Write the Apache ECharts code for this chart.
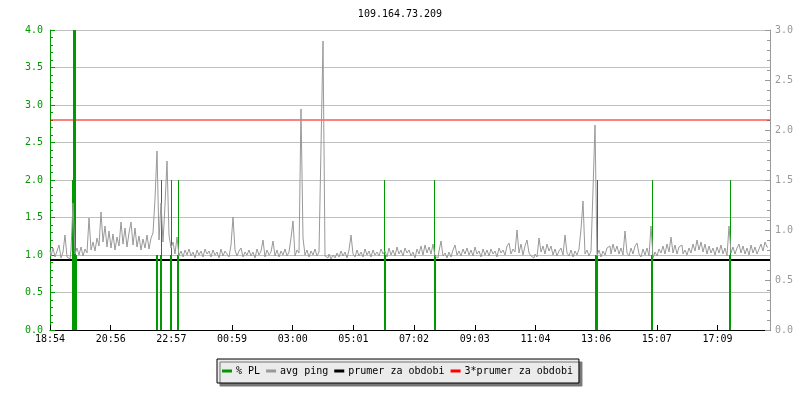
<!DOCTYPE html>
<html>
<head>
<meta charset="utf-8">
<script src="https://cdn.jsdelivr.net/npm/echarts/dist/echarts.min.js"></script>
<style>html,body{margin:0;padding:0;background:#fff;}#c{width:800px;height:400px;}</style>
</head>
<body>
<div id="c"></div>
<script>
// x values are minutes after 18:54
const timeLabels = ['18:54','20:56','22:57','00:59','03:00','05:01','07:02','09:03','11:04','13:06','15:07','17:09'];
const tickStep = 1335 / 11;
const pingStep = 4; // minutes between ping samples
const pingValues = [
0.80,0.74,0.82,0.73,0.79,0.85,0.72,0.78,0.95,0.73,0.71,0.80,1.27,0.76,0.82,0.75,0.83,0.74,0.81,0.77,
1.12,0.80,0.88,0.79,0.92,0.84,1.18,0.88,1.04,0.83,0.99,0.82,0.96,0.80,0.93,0.84,1.08,0.86,1.02,0.83,
0.97,1.08,0.85,1.02,0.83,0.94,0.80,0.91,0.82,0.95,0.81,0.92,0.97,1.31,1.79,0.90,1.27,0.88,1.25,1.69,
0.95,0.82,0.88,0.76,0.93,0.74,0.79,0.73,0.80,0.75,0.81,0.74,0.78,0.72,0.80,0.75,0.79,0.73,0.81,0.76,
0.79,0.73,0.80,0.75,0.78,0.72,0.81,0.74,0.79,0.76,0.73,0.85,1.13,0.80,0.74,0.79,0.82,0.73,0.78,0.75,
0.80,0.74,0.78,0.72,0.81,0.75,0.79,0.90,0.73,0.80,0.75,0.78,0.89,0.74,0.80,0.73,0.79,0.75,0.81,0.74,
0.78,0.92,1.09,0.74,0.80,0.77,2.21,0.92,0.75,0.80,0.73,0.79,0.75,0.81,0.74,0.78,1.83,2.89,0.74,0.72,
0.76,0.71,0.75,0.72,0.77,0.73,0.79,0.74,0.78,0.72,0.80,0.95,0.76,0.73,0.80,0.74,0.78,0.73,0.81,0.75,
0.79,0.73,0.80,0.75,0.78,0.74,0.81,0.76,0.79,0.73,0.82,0.75,0.80,0.74,0.83,0.76,0.80,0.74,0.82,0.77,
0.80,0.74,0.78,0.72,0.81,0.76,0.84,0.75,0.85,0.77,0.83,0.76,0.86,0.74,0.72,0.79,0.89,0.74,0.77,0.72,
0.78,0.73,0.80,0.85,0.75,0.79,0.74,0.81,0.76,0.82,0.75,0.80,0.74,0.83,0.76,0.79,0.73,0.81,0.75,0.80,
0.74,0.81,0.76,0.79,0.73,0.82,0.77,0.80,0.75,0.84,0.87,0.76,0.81,0.78,1.00,0.77,0.86,0.75,0.84,0.90,
0.77,0.74,0.72,0.76,0.73,0.92,0.78,0.84,0.76,0.86,0.79,0.84,0.75,0.81,0.74,0.79,0.82,0.75,0.95,0.77,
0.74,0.80,0.73,0.79,0.75,0.81,1.01,1.29,0.76,0.80,0.74,0.79,1.40,2.05,0.74,0.80,0.73,0.79,0.75,0.82,
0.84,0.76,0.86,0.78,0.84,0.76,0.82,0.75,0.99,0.77,0.74,0.82,0.76,0.84,0.87,0.76,0.73,0.81,0.75,0.82,
0.74,1.04,0.72,0.78,0.74,0.81,0.77,0.84,0.76,0.86,0.78,0.93,0.77,0.85,0.76,0.83,0.85,0.76,0.80,0.75,
0.82,0.77,0.86,0.79,0.90,0.80,0.88,0.78,0.86,0.76,0.84,0.77,0.82,0.75,0.83,0.77,0.85,0.76,0.82,0.74,
1.04,0.77,0.83,0.76,0.82,0.86,0.77,0.84,0.76,0.82,0.75,0.85,0.77,0.83,0.76,0.81,0.86,0.79,0.88,0.83
];
const plTimes = [45,47,49,51,53, 213,215,221,223,241,243,255,257, 669,671, 769,771, 1091,1093,1095, 1203,1205, 1359,1361];
const plValues = [2,4,4,4,1, 1,1,1,2,1,2,1,2, 2,1, 2,1, 1,1,2, 1,2, 1,2];
const meanPing = 0.70;

const FONT = 'DejaVu Sans Mono';
const GREEN = '#009900';
const GRAY = '#999999';

const pingData = pingValues.map((v, i) => [i * pingStep, v]);
const plData = plTimes.map((t, i) => [t, plValues[i]]);

const chart = echarts.init(document.getElementById('c'), null, {renderer: 'canvas'});
chart.setOption({
  animation: false,
  backgroundColor: '#ffffff',
  title: {
    text: '109.164.73.209', left: 'center', top: 4,
    textStyle: {fontFamily: FONT, fontSize: 10, fontWeight: 'normal', color: '#000'}
  },
  legend: {
    data: ['% PL', 'avg ping', 'prumer za obdobi', '3*prumer za obdobi'],
    left: 217, top: 359,
    icon: 'rect', itemWidth: 10, itemHeight: 3, itemGap: 6,
    padding: [7, 6, 7, 5],
    backgroundColor: '#ebebeb', borderColor: '#000', borderWidth: 1,
    shadowColor: '#777', shadowBlur: 0, shadowOffsetX: 3, shadowOffsetY: 3,
    textStyle: {fontFamily: FONT, fontSize: 10, color: '#000', padding: [0,0,0,-1]}
  },
  grid: {left: 50, right: 30, top: 30, bottom: 70, containLabel: false},
  xAxis: {
    type: 'value', min: 0, max: 1440, interval: tickStep,
    axisLine: {lineStyle: {color: '#000', width: 1}},
    axisTick: {inside: true, length: 5, lineStyle: {color: '#000'}},
    splitLine: {show: false},
    axisLabel: {
      fontFamily: FONT, fontSize: 10, color: '#000', margin: 4, showMaxLabel: false,
      formatter: v => {
        const k = Math.round(v / tickStep);
        return (Math.abs(v - k * tickStep) < 0.5 && k < timeLabels.length) ? timeLabels[k] : '';
      }
    }
  },
  yAxis: [
    {
      type: 'value', min: 0, max: 4, interval: 0.5, position: 'left',
      axisLine: {show: true, lineStyle: {color: GREEN, width: 1}},
      axisTick: {show: true, inside: true, length: 5, lineStyle: {color: GREEN}},
      minorTick: {show: true, splitNumber: 5, length: 3, lineStyle: {color: GREEN}},
      splitLine: {show: true, lineStyle: {color: '#c0c0c0', width: 1}},
      axisLabel: {fontFamily: FONT, fontSize: 10, color: GREEN, margin: 7, formatter: v => v.toFixed(1)}
    },
    {
      type: 'value', min: 0, max: 3, interval: 0.5, position: 'right',
      axisLine: {show: true, lineStyle: {color: GRAY, width: 1}},
      axisTick: {show: true, inside: true, length: 5, lineStyle: {color: GRAY}},
      minorTick: {show: true, splitNumber: 5, length: 3, lineStyle: {color: GRAY}},
      splitLine: {show: false},
      axisLabel: {fontFamily: FONT, fontSize: 10, color: GRAY, margin: 5, formatter: v => v.toFixed(1)}
    }
  ],
  series: [
    {
      name: 'prumer za obdobi', type: 'line', yAxisIndex: 1, z: 1,
      data: [[0, meanPing], [1440, meanPing]], symbol: 'none', color: '#000',
      lineStyle: {color: '#000', width: 2}
    },
    {
      name: '3*prumer za obdobi', type: 'line', yAxisIndex: 1, z: 1,
      data: [[0, 3 * meanPing], [1440, 3 * meanPing]], symbol: 'none', color: '#ff0000',
      lineStyle: {color: '#ff0000', width: 1}
    },
    {
      name: '% PL', type: 'bar', yAxisIndex: 0, z: 2, barWidth: 1,
      data: plData, color: GREEN, itemStyle: {color: GREEN}
    },
    {
      name: 'avg ping', type: 'line', yAxisIndex: 1, z: 3, step: 'middle',
      data: pingData, symbol: 'none', color: GRAY,
      lineStyle: {color: GRAY, width: 1}
    }
  ]
});
</script>
</body>
</html>
